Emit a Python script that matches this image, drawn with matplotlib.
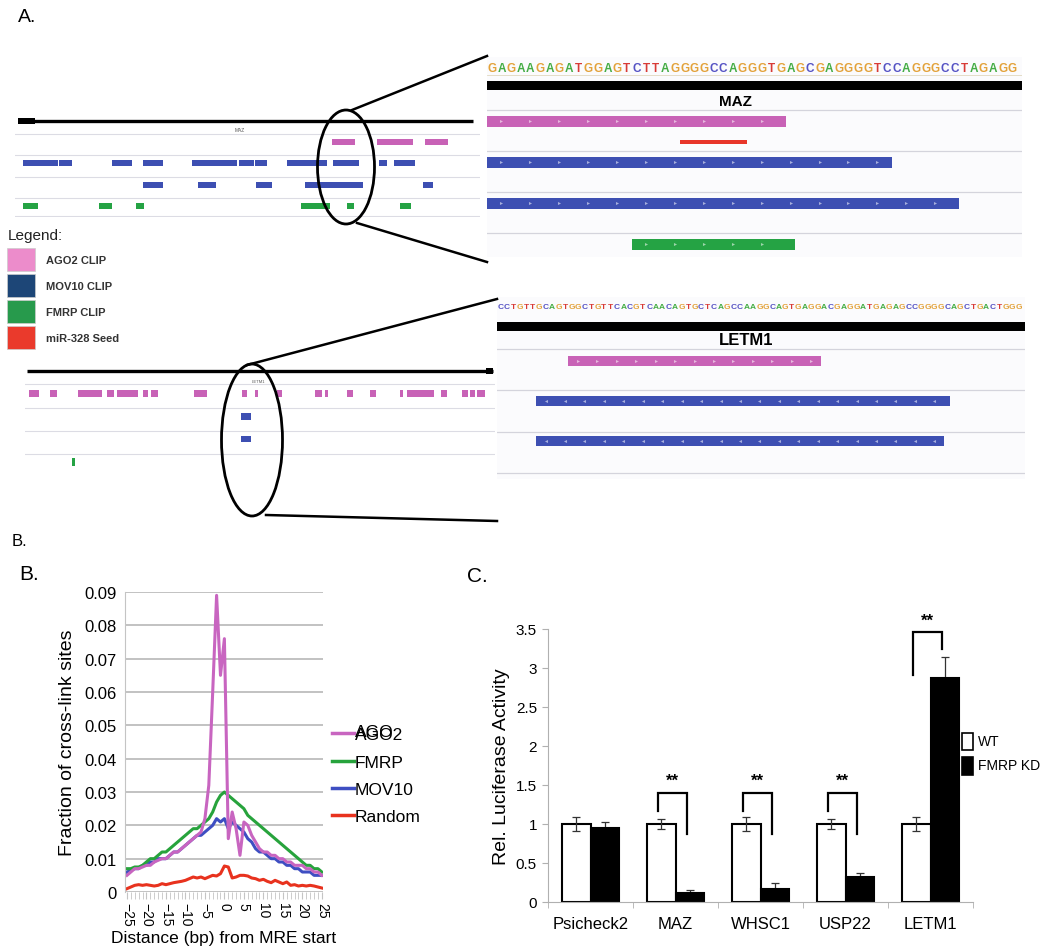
import matplotlib.pyplot as plt
import matplotlib.patches as mpatches
from matplotlib import font_manager
import numpy as np

W, H = 1050, 953
fonts = {f.name for f in font_manager.fontManager.ttflist}
NARROW = "Liberation Sans Narrow" if "Liberation Sans Narrow" in fonts else "Liberation Sans"
plt.rcParams["font.family"] = ["Liberation Sans", "DejaVu Sans"]

PINK, BLUE, GREEN, RED = "#c862b6", "#3d4fb2", "#25a344", "#e8362a"
BASE_COL = {"A": "#45ad45", "C": "#5552c4", "G": "#e3a23a", "T": "#d83a36"}

# ---------------- panel A data ----------------
# MAZ locus overview, positions along the browser window
maz_gene = (3, 458)
maz_ago2 = [(317, 340), (362, 398), (410, 433)]
maz_mov10_a = [(8, 43), (44, 57), (97, 117), (128, 148), (177, 222), (224, 239),
               (240, 252), (272, 312), (318, 344), (364, 372), (379, 400)]
maz_mov10_b = [(128, 148), (183, 201), (241, 257), (290, 348), (408, 418)]
maz_fmrp = [(8, 23), (84, 97), (121, 129), (286, 315), (332, 339), (385, 396)]

# LETM1 locus overview
letm_gene = (2, 468)
letm_ago2 = [(4, 14), (25, 32), (53, 77), (82, 89), (92, 113), (118, 123), (126, 133),
             (169, 182), (217, 222), (230, 233), (252, 257), (290, 297), (300, 303),
             (322, 328), (345, 351), (375, 378), (382, 409), (416, 422), (437, 443),
             (445, 450), (452, 460)]
letm_mov10_a = [(216, 226)]
letm_mov10_b = [(216, 226)]
letm_fmrp = [(47, 50)]

# MAZ zoom (nucleotide positions)
maz_seq = "GAGAAGAGATGGAGTCTTAGGGGCCAGGGTGAGCGAGGGGTCCAGGGCCTAGAGG"
maz_zoom_ago2 = (0, 31)
maz_seed = (20, 27)
maz_zoom_mov10 = [(0, 42), (0, 49)]
maz_zoom_fmrp = (15, 32)

# LETM1 zoom
letm_seq = "CCTGTTGCAGTGGCTGTTCACGTCAACAGTGCTCAGCCAAGGCAGTGAGGACGAGGATGAGAGCCGGGGCAGCTGACTGGG"
letm_zoom_ago2 = (11, 50)
letm_zoom_mov10 = [(6, 70), (6, 69)]

legend_labels = ["AGO2 CLIP", "MOV10 CLIP", "FMRP CLIP", "miR-328 Seed"]
legend_colors = ["#ec8ccb", "#1d4677", "#279a4c", "#ea3a2c"]

# ---------------- panel B data ----------------
dist = np.arange(-25, 26)
ago2 = [0.005, 0.006, 0.007, 0.007, 0.0075, 0.008, 0.008, 0.009, 0.0095, 0.010,
        0.010, 0.011, 0.012, 0.012, 0.013, 0.014, 0.015, 0.016, 0.017, 0.018,
        0.022, 0.032, 0.060, 0.089, 0.065, 0.076, 0.016, 0.024, 0.019, 0.011,
        0.021, 0.020, 0.017, 0.015, 0.013, 0.012, 0.012, 0.011, 0.011, 0.010,
        0.010, 0.009, 0.009, 0.008, 0.008, 0.008, 0.007, 0.007, 0.006, 0.006, 0.005]
fmrp = [0.007, 0.007, 0.0075, 0.0075, 0.008, 0.009, 0.010, 0.010, 0.011, 0.012,
        0.012, 0.013, 0.014, 0.015, 0.016, 0.017, 0.018, 0.019, 0.019, 0.020,
        0.021, 0.022, 0.024, 0.027, 0.029, 0.030, 0.029, 0.028, 0.027, 0.026,
        0.025, 0.023, 0.022, 0.021, 0.020, 0.019, 0.018, 0.017, 0.016, 0.015,
        0.014, 0.013, 0.012, 0.011, 0.010, 0.009, 0.008, 0.008, 0.007, 0.007, 0.006]
mov10 = [0.006, 0.0065, 0.007, 0.007, 0.008, 0.008, 0.009, 0.009, 0.010, 0.010,
         0.010, 0.011, 0.012, 0.012, 0.013, 0.014, 0.015, 0.016, 0.017, 0.017,
         0.018, 0.019, 0.020, 0.022, 0.021, 0.022, 0.019, 0.021, 0.020, 0.019,
         0.018, 0.016, 0.015, 0.013, 0.012, 0.012, 0.011, 0.010, 0.010, 0.009,
         0.009, 0.008, 0.008, 0.007, 0.007, 0.006, 0.006, 0.006, 0.005, 0.005, 0.005]
random_ = [0.001, 0.0015, 0.002, 0.0022, 0.002, 0.0022, 0.002, 0.0018, 0.002, 0.0025,
           0.0022, 0.0025, 0.0028, 0.003, 0.0032, 0.0035, 0.004, 0.0045, 0.0042, 0.0045,
           0.004, 0.0045, 0.005, 0.0048, 0.0055, 0.0078, 0.0075, 0.0042, 0.0045, 0.005,
           0.005, 0.0048, 0.0042, 0.004, 0.0035, 0.0038, 0.0032, 0.0028, 0.0035, 0.003,
           0.0025, 0.003, 0.002, 0.0022, 0.0018, 0.002, 0.0018, 0.002, 0.0018, 0.0015, 0.0012]
b_series = [("AGO2", ago2, "#c865c0"), ("FMRP", fmrp, "#27a33c"),
            ("MOV10", mov10, "#3e4ec2"), ("Random", random_, "#e8321e")]

# ---------------- panel C data ----------------
genes = ["Psicheck2", "MAZ", "WHSC1", "USP22", "LETM1"]
wt_mean = [1.0, 1.0, 1.0, 1.0, 1.0]
wt_err = [0.085, 0.065, 0.085, 0.065, 0.085]
kd_mean = [0.95, 0.12, 0.17, 0.32, 2.87]
kd_err = [0.07, 0.03, 0.08, 0.055, 0.27]
sig_idx = [1, 2, 3, 4]
sig_top = [1.40, 1.40, 1.40, 3.46]
sig_left = [1.17, 1.17, 1.17, 2.91]
sig_right = [0.87, 0.87, 0.87, 3.24]

fig = plt.figure(figsize=(10.5, 9.53), dpi=100)


def px_axes(x0, y0, x1, y1, **kw):
    return fig.add_axes([x0 / W, 1 - y1 / H, (x1 - x0) / W, (y1 - y0) / H], **kw)


def fig_text(x, y, s, **kw):
    fig.text(x / W, 1 - y / H, s, **kw)


def track_axes(box, xlim, ylim, face="#fbfbfd"):
    ax = px_axes(*box)
    ax.set_xlim(*xlim)
    ax.set_ylim(*ylim)
    ax.set_xticks([])
    ax.set_yticks([])
    for s in ax.spines.values():
        s.set_visible(False)
    ax.set_facecolor(face)
    return ax


def bars(ax, segs, row, color, h):
    ax.broken_barh([(s, e - s) for s, e in segs], (row - h / 2, h),
                   facecolors=color, edgecolor="none")


def chevrons(ax, seg, row, mk):
    xs = np.arange(seg[0] + 1.5, seg[1] - 0.5, 3)
    ax.plot(xs, [row] * len(xs), ls="none", marker=mk, ms=2.2, mew=0,
            color="white", alpha=0.55)


# --- A: MAZ overview ---
ax = track_axes((15, 112, 480, 218), (0, 465), (4.52, -0.47), face="white")
for r in [0.62, 1.62, 2.62, 3.62, 4.45]:
    ax.axhline(r, color="#dcdce4", lw=0.8)
ax.plot(maz_gene, [0, 0], color="black", lw=2.4, solid_capstyle="butt")
bars(ax, [(maz_gene[0], maz_gene[0] + 17)], 0, "black", 0.28)
ax.text(225, 0.42, "MAZ", fontsize=3.5, color="#555555", ha="center", va="center")
bars(ax, maz_ago2, 1, PINK, 0.3)
bars(ax, maz_mov10_a, 2, BLUE, 0.28)
bars(ax, maz_mov10_b, 3, BLUE, 0.28)
bars(ax, maz_fmrp, 4, GREEN, 0.28)

# --- A: LETM1 overview ---
ax = track_axes((25, 362, 495, 470), (0, 470), (4.32, -0.44), face="white")
for r in [0.57, 1.63, 2.64, 3.66]:
    ax.axhline(r, color="#dcdce4", lw=0.8)
ax.plot(letm_gene, [0, 0], color="black", lw=2.4, solid_capstyle="butt")
bars(ax, [(letm_gene[1] - 7, letm_gene[1])], 0, "black", 0.3)
ax.text(233, 0.45, "LETM1", fontsize=3, color="#555555", ha="center", va="center")
bars(ax, letm_ago2, 1, PINK, 0.28)
bars(ax, letm_mov10_a, 2, BLUE, 0.28)
bars(ax, letm_mov10_b, 3, BLUE, 0.28)
bars(ax, letm_fmrp, 4, GREEN, 0.35)

# --- A: MAZ zoom ---
ax = track_axes((487, 58, 1022, 258), (0, 55.5), (8.61, -1.146))
for r in [1.45, 3.45, 5.45, 7.45]:
    ax.axhline(r, color="#d4d4dc", lw=0.9)
for i, b in enumerate(maz_seq):
    ax.text(i + 0.5, -0.62, b, color=BASE_COL[b], fontsize=8.5, fontweight="bold",
            family=NARROW, ha="center", va="center")
ax.axhline(-0.25, color="#e0d8c0", lw=0.6)
bars(ax, [(0, 55.5)], 0.25, "black", 0.44)
ax.text(25.8, 1.0, "MAZ", fontsize=11, fontweight="bold", family=NARROW,
        ha="center", va="center")
bars(ax, [maz_zoom_ago2], 2, PINK, 0.5)
chevrons(ax, maz_zoom_ago2, 2, ">")
bars(ax, [maz_seed], 3, RED, 0.2)
for k, seg in enumerate(maz_zoom_mov10):
    bars(ax, [seg], 4 + 2 * k, BLUE, 0.5)
    chevrons(ax, seg, 4 + 2 * k, ">")
bars(ax, [maz_zoom_fmrp], 8, GREEN, 0.5)
chevrons(ax, maz_zoom_fmrp, 8, ">")

# --- A: LETM1 zoom ---
ax = track_axes((497, 298, 1025, 480), (0, 81.5), (7.9, -1.2))
for r in [1.4, 3.45, 5.55, 7.6]:
    ax.axhline(r, color="#d4d4dc", lw=0.9)
for i, b in enumerate(letm_seq):
    ax.text(i + 0.5, -0.7, b, color=BASE_COL[b], fontsize=6, fontweight="bold",
            family=NARROW, ha="center", va="center")
bars(ax, [(0, 81.5)], 0.25, "black", 0.45)
ax.text(38.5, 0.95, "LETM1", fontsize=12, fontweight="bold", ha="center", va="center")
bars(ax, [letm_zoom_ago2], 2, PINK, 0.5)
chevrons(ax, letm_zoom_ago2, 2, ">")
for k, seg in enumerate(letm_zoom_mov10):
    bars(ax, [seg], 4 + 2 * k, BLUE, 0.5)
    chevrons(ax, seg, 4 + 2 * k, "<")

# --- A: decorations (ellipses, zoom lines, legend) ---
ov = fig.add_axes([0, 0, 1, 1], zorder=5)
ov.set_xlim(0, W)
ov.set_ylim(H, 0)
ov.axis("off")
for (cx, cy), w, h in [((346, 168), 57, 114), ((252, 441), 61, 152)]:
    ov.add_patch(mpatches.Ellipse((cx, cy), w, h, fill=False, lw=2.0, ec="black"))
for (x0, y0), (x1, y1) in [((352, 111), (487, 57)), ((357, 224), (487, 263)),
                           ((247, 366), (497, 300)), ((266, 516), (497, 522))]:
    ov.plot([x0, x1], [y0, y1], color="black", lw=1.8)
ov.text(8, 236, "Legend:", fontsize=11, color="#222222", va="center")
for k, (lab, col) in enumerate(zip(legend_labels, legend_colors)):
    top = 249 + 26 * k
    ov.add_patch(mpatches.Rectangle((7, top), 28, 23, fc=col, ec="#cccccc", lw=0.5))
    ov.text(46, top + 12, lab, fontsize=8, fontweight="bold", color="#333333", va="center")

# panel labels
fig_text(18, 18, "A.", fontsize=14, family=NARROW, va="center")
fig_text(12, 541, "B.", fontsize=12, family=NARROW, va="center")
fig_text(19, 575, "B.", fontsize=15, family=NARROW, va="center")
fig_text(467, 577, "C.", fontsize=15, family=NARROW, va="center")

# ---------------- panel B ----------------
axb = px_axes(125, 593, 323, 893)
for name, vals, col in b_series[::-1]:
    axb.plot(dist, vals, color=col, lw=2.2)
axb.set_xlim(-25.5, 25.3)
axb.set_ylim(0, 0.09)
yt = np.arange(0, 10) / 100
axb.set_yticks(yt)
axb.set_yticklabels(["0"] + ["%.2f" % v for v in yt[1:]])
axb.grid(axis="y", color="#b8b8b8", lw=1.2)
axb.set_axisbelow(True)
axb.set_xticks(range(-25, 26, 5))
axb.set_xticks(range(-25, 26), minor=True)
axb.tick_params(axis="x", which="both", direction="out", length=5, color="#c4c4c4")
axb.tick_params(axis="x", labelrotation=270, labelsize=10, pad=2)
axb.tick_params(axis="y", length=0, labelsize=12, pad=6)
for s in ["top", "right", "bottom"]:
    axb.spines[s].set_visible(False)
axb.spines["left"].set_color("#c4c4c4")
axb.set_ylabel("Fraction of cross-link sites", fontsize=14, labelpad=6)
axb.set_xlabel("Distance (bp) from MRE start", fontsize=12.5, labelpad=3)
for k, (name, vals, col) in enumerate(b_series):
    yy = [0.53, 0.436, 0.347, 0.257][k]
    axb.plot([1.045, 1.155], [yy, yy], color=col, lw=2.5, transform=axb.transAxes,
             clip_on=False)
    axb.text(1.162, yy - 0.006, name, fontsize=12.5, transform=axb.transAxes, va="center")
axb.text(1.162, 0.536, "AGO", fontsize=12.5, transform=axb.transAxes, va="center")

# ---------------- panel C ----------------
axc = px_axes(548, 630, 973, 903)
x = np.arange(len(genes))
bw = 0.34
axc.bar(x - bw / 2, wt_mean, bw, color="white", edgecolor="black", lw=1.5, zorder=2)
axc.bar(x + bw / 2, kd_mean, bw, color="black", edgecolor="black", lw=1.5, zorder=2)
axc.errorbar(x - bw / 2, wt_mean, yerr=wt_err, fmt="none", ecolor="#333333",
             elinewidth=0.9, capsize=3, capthick=0.9, zorder=3)
axc.errorbar(x + bw / 2, kd_mean, yerr=kd_err, fmt="none", ecolor="#333333",
             elinewidth=0.9, capsize=3, capthick=0.9, zorder=1)
for i, top, lo_l, lo_r in zip(sig_idx, sig_top, sig_left, sig_right):
    xl, xr = i - bw / 2 - 0.04, i + bw / 2 - 0.04
    axc.plot([xl, xl, xr, xr], [lo_l, top, top, lo_r], color="black", lw=1.6,
             solid_joinstyle="miter")
    axc.text((xl + xr) / 2, top + 0.06, "**", fontsize=12, fontweight="bold",
             ha="center", va="bottom")
axc.set_xlim(-0.5, 4.5)
axc.set_ylim(0, 3.5)
axc.set_yticks(np.arange(0, 3.6, 0.5))
axc.set_yticklabels(["0", "0.5", "1", "1.5", "2", "2.5", "3", "3.5"], family=NARROW)
axc.set_xticks(x)
axc.set_xticklabels(genes, family=NARROW)
axc.set_xticks(np.arange(-0.5, 4.6, 1), minor=True)
axc.tick_params(axis="x", which="major", length=0, labelsize=12, pad=10)
axc.tick_params(axis="x", which="minor", direction="out", length=4, color="#b0b0b0")
axc.tick_params(axis="y", direction="out", length=4, color="#b0b0b0", labelsize=11, pad=4)
for s in ["top", "right"]:
    axc.spines[s].set_visible(False)
for s in ["left", "bottom"]:
    axc.spines[s].set_color("#b0b0b0")
axc.set_ylabel("Rel. Luciferase Activity", fontsize=14, labelpad=4)
for k, (lab, fc) in enumerate([("WT", "white"), ("FMRP KD", "black")]):
    y0 = [0.555, 0.467][k]
    axc.add_patch(mpatches.Rectangle((0.975, y0), 0.024, 0.065, fc=fc, ec="black", lw=1.2,
                                     transform=axc.transAxes, clip_on=False))
    axc.text(1.012, y0 + 0.033, lab, fontsize=10, family=NARROW,
             transform=axc.transAxes, va="center")

fig.savefig("out.png", dpi=100)
